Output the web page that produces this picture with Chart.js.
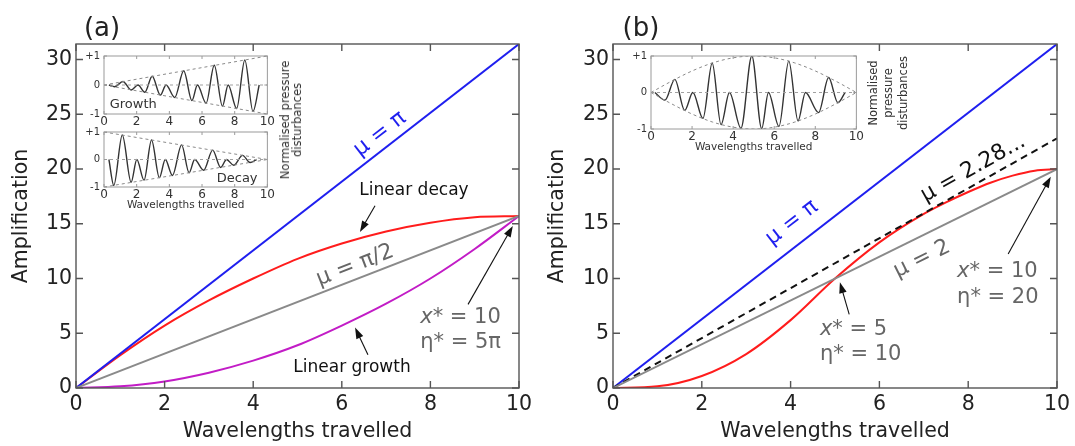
<!DOCTYPE html>
<html>
<head>
<meta charset="utf-8">
<script src="https://cdn.jsdelivr.net/npm/chart.js@4.4.1/dist/chart.umd.min.js"></script>
<style>
body { margin: 0; background: #fff; width: 1075px; height: 446px; overflow: hidden; position: relative; font-family: "DejaVu Sans", sans-serif; }
canvas { position: absolute; }
.lbl { position: absolute; white-space: nowrap; transform: translate(-50%, -50%); color: #222; }
.side { position: absolute; white-space: nowrap; text-align: center; color: #333; transform: translate(-50%, -50%) rotate(-90deg); }
</style>
</head>
<body>
<canvas id="mainA" width="540" height="446" style="left:0;top:0"></canvas>
<canvas id="mainB" width="539" height="446" style="left:536px;top:0"></canvas>
<canvas id="insetGrowth" width="196" height="84" style="left:80px;top:46px"></canvas>
<canvas id="insetDecay" width="196" height="96" style="left:80px;top:122px"></canvas>
<canvas id="insetB" width="240" height="110" style="left:625px;top:46px"></canvas>

<div class="lbl" style="left:102px;top:27px;font-size:26px">(a)</div>
<div class="lbl" style="left:641px;top:27px;font-size:26px">(b)</div>
<div class="side" style="left:291px;top:120px;font-size:11.5px;line-height:12px">Normalised pressure<br>disturbances</div>
<div class="side" style="left:888px;top:93px;font-size:11.5px;line-height:15px">Normalised<br>pressure<br>disturbances</div>

<script>
// ---- panel (a) main curves ----
const aLineX = [0, 10];
const aMuPi = [0, 31.42];
const aMuHalfPi = [0, 15.71];
const aCurveX = [0, 1, 2, 3, 4, 5, 6, 7, 8, 9, 10];
const aLinearDecay = [0, 3.0, 5.7, 8.0, 10.0, 11.8, 13.2, 14.3, 15.1, 15.6, 15.71];
const aLinearGrowth = [0, 0.15, 0.6, 1.4, 2.5, 3.9, 5.7, 7.7, 10.0, 12.7, 15.71];

// ---- panel (b) main curves ----
const bLineX = [0, 10];
const bMuPi = [0, 31.42];
const bMu2 = [0, 20];
const bMu228 = [0, 22.8];
const bCurveX = [0, 1, 2, 3, 4, 5, 6, 7, 7.5, 8, 8.5, 9, 9.5, 10];
const bSineCurve = [0, 0.15, 1.1, 3.1, 6.2, 10.0, 13.3, 15.9, 16.95, 17.9, 18.75, 19.4, 19.85, 20];

// ---- insets: normalised pressure disturbances ----
const growthX = [0.3, 0.65, 1.16, 1.66, 2.08, 2.5, 2.95, 3.45, 3.8, 4.33, 4.88, 5.38, 5.72, 6.25, 6.75, 7.25, 7.6, 8.12, 8.62, 9.12, 9.5];
const growthP = [0, -0.06, 0.12, -0.17, 0, -0.25, 0.3, -0.35, 0, -0.43, 0.49, -0.54, 0, -0.63, 0.68, -0.73, 0, -0.81, 0.86, -0.91, 0];
const growthEnvX = [0, 10];
const growthEnvTop = [0, 1];
const growthEnvBot = [0, -1];

const decayX = [0.3, 0.6, 1.12, 1.66, 2.01, 2.45, 2.91, 3.39, 3.75, 4.19, 4.75, 5.21, 5.55, 6.1, 6.65, 7.14, 7.5, 7.94, 8.48, 8.94, 9.34];
const decayP = [0, -0.94, 0.89, -0.83, 0, -0.75, 0.71, -0.66, 0, -0.58, 0.53, -0.48, 0, -0.39, 0.34, -0.29, 0, -0.21, 0.15, -0.11, 0];
const decayEnvX = [0, 10];
const decayEnvTop = [1, 0];
const decayEnvBot = [-1, 0];

const bInsetX = [0.19, 0.68, 1.16, 1.64, 2.04, 2.53, 2.98, 3.41, 3.82, 4.38, 4.91, 5.39, 5.72, 6.23, 6.71, 7.16, 7.52, 8.16, 8.65, 9.1, 9.45];
const bInsetP = [0, -0.21, 0.36, -0.49, 0, -0.71, 0.81, -0.88, 0, -0.98, 1.0, -0.99, 0, -0.93, 0.86, -0.78, 0, -0.55, 0.41, -0.28, 0];
const bEnvX = [0, 1, 2, 3, 4, 5, 6, 7, 8, 9, 10];
const bEnvTop = [0, 0.31, 0.59, 0.81, 0.95, 1, 0.95, 0.81, 0.59, 0.31, 0];
const bEnvBot = [0, -0.31, -0.59, -0.81, -0.95, -1, -0.95, -0.81, -0.59, -0.31, 0];

const zeroX = [0, 10];
const zeroP = [0, 0];
const insetYLabels = { '-1': '-1', '0': '0', '1': '+1' };

const FONT = "DejaVu Sans";
const BLUE = '#1f1fef';
const RED = '#ff1c1c';
const MAGENTA = '#c21cc6';
const GRAY = '#8a8a8a';
const NOTE_GRAY = '#666666';

function pts(xs, ys) {
    return xs.map((x, i) => ({ x: x, y: ys[i] }));
}

// Frame round the plot area with inward ticks on all four sides
const framePlugin = {
    id: 'frame',
    beforeDraw(chart, args, opts) {
        if (!opts.fill) return;
        const a = chart.chartArea;
        chart.ctx.save();
        chart.ctx.fillStyle = opts.fill;
        chart.ctx.fillRect(a.left, a.top, a.right - a.left, a.bottom - a.top);
        chart.ctx.restore();
    },
    afterDraw(chart, args, opts) {
        const { ctx, chartArea: a, scales } = chart;
        const L = opts.len || 6;
        ctx.save();
        ctx.strokeStyle = opts.color || '#555';
        ctx.lineWidth = opts.width || 1.3;
        ctx.beginPath();
        scales.x.ticks.forEach(t => {
            const p = scales.x.getPixelForValue(t.value);
            ctx.moveTo(p, a.bottom); ctx.lineTo(p, a.bottom - L);
            ctx.moveTo(p, a.top); ctx.lineTo(p, a.top + L);
        });
        scales.y.ticks.forEach(t => {
            const p = scales.y.getPixelForValue(t.value);
            ctx.moveTo(a.left, p); ctx.lineTo(a.left + L, p);
            ctx.moveTo(a.right, p); ctx.lineTo(a.right - L, p);
        });
        ctx.stroke();
        ctx.strokeRect(a.left, a.top, a.right - a.left, a.bottom - a.top);
        ctx.restore();
    }
};

// Text labels and arrows placed in data coordinates
const notesPlugin = {
    id: 'notes',
    afterDatasetsDraw(chart, args, opts) {
        const { ctx, scales: { x, y } } = chart;
        (opts.arrows || []).forEach(ar => {
            const x0 = x.getPixelForValue(ar.from[0]), y0 = y.getPixelForValue(ar.from[1]);
            const x1 = x.getPixelForValue(ar.to[0]), y1 = y.getPixelForValue(ar.to[1]);
            const ang = Math.atan2(y1 - y0, x1 - x0);
            const c = Math.cos(ang), s = Math.sin(ang);
            ctx.save();
            ctx.strokeStyle = '#111';
            ctx.fillStyle = '#111';
            ctx.lineWidth = 1.1;
            ctx.beginPath();
            ctx.moveTo(x0, y0);
            ctx.lineTo(x1 - 9 * c, y1 - 9 * s);
            ctx.stroke();
            ctx.beginPath();
            ctx.moveTo(x1, y1);
            ctx.lineTo(x1 - 11 * c + 3.8 * s, y1 - 11 * s - 3.8 * c);
            ctx.lineTo(x1 - 11 * c - 3.8 * s, y1 - 11 * s + 3.8 * c);
            ctx.closePath();
            ctx.fill();
            ctx.restore();
        });
        (opts.texts || []).forEach(t => {
            const px = x.getPixelForValue(t.x), py = y.getPixelForValue(t.y);
            let rot = 0;
            if (t.slope !== undefined) {
                const dx = x.getPixelForValue(1) - x.getPixelForValue(0);
                const dy = y.getPixelForValue(t.slope) - y.getPixelForValue(0);
                rot = Math.atan2(dy, dx);
            }
            ctx.save();
            ctx.translate(px, py);
            ctx.rotate(rot);
            ctx.fillStyle = t.color;
            ctx.textBaseline = 'middle';
            ctx.textAlign = 'left';
            const parts = t.parts || [[t.text, false]];
            const fontOf = it => (it ? 'italic ' : '') + t.size + 'px "' + FONT + '"';
            let total = 0;
            parts.forEach(p => { ctx.font = fontOf(p[1]); total += ctx.measureText(p[0]).width; });
            let cx = t.align === 'left' ? 0 : -total / 2;
            parts.forEach(p => {
                ctx.font = fontOf(p[1]);
                ctx.fillText(p[0], cx, 0);
                cx += ctx.measureText(p[0]).width;
            });
            ctx.restore();
        });
    }
};

function lineSet(data, color, width, extra) {
    return Object.assign({
        data: data,
        borderColor: color,
        borderWidth: width,
        pointRadius: 0,
        fill: false,
        tension: 0
    }, extra || {});
}

function makeMain(id, datasets, notes, padRight) {
    return new Chart(document.getElementById(id), {
        type: 'line',
        data: { datasets: datasets },
        options: {
            responsive: false,
            animation: false,
            events: [],
            layout: { padding: { top: 44, right: padRight, left: 0, bottom: 0 } },
            plugins: {
                legend: { display: false },
                tooltip: { enabled: false },
                frame: { len: 7, color: '#555', width: 1.4 },
                notes: notes
            },
            scales: {
                x: {
                    type: 'linear', min: 0, max: 10,
                    grid: { display: false, drawTicks: false }, border: { display: false },
                    ticks: { stepSize: 2, padding: 4, color: '#222', font: { family: FONT, size: 20.5 } },
                    title: { display: true, text: 'Wavelengths travelled', color: '#222', padding: { top: 0, bottom: 2 }, font: { family: FONT, size: 20.5 } },
                    afterFit: s => { s.height = 58; }
                },
                y: {
                    type: 'linear', min: 0, max: 31.42,
                    grid: { display: false, drawTicks: false }, border: { display: false },
                    ticks: { stepSize: 5, includeBounds: false, padding: 4, color: '#222', font: { family: FONT, size: 20.5 } },
                    title: { display: true, text: 'Amplification', color: '#222', padding: { top: 9, bottom: 0 }, font: { family: FONT, size: 20.5 } },
                    afterFit: s => { s.width = id === 'mainA' ? 76 : 77; }
                }
            }
        },
        plugins: [framePlugin, notesPlugin]
    });
}

function makeInset(id, datasets, cfg) {
    return new Chart(document.getElementById(id), {
        type: 'line',
        data: { datasets: datasets },
        options: {
            responsive: false,
            animation: false,
            events: [],
            layout: { padding: { top: 9, right: cfg.padRight, left: 0, bottom: 0 } },
            plugins: {
                legend: { display: false },
                tooltip: { enabled: false },
                frame: { len: 3, color: '#9a9a9a', width: 1, fill: '#fff' },
                notes: cfg.notes || {}
            },
            scales: {
                x: {
                    type: 'linear', min: 0, max: 10,
                    grid: { display: false, drawTicks: false }, border: { display: false },
                    ticks: { stepSize: 2, padding: 1, color: '#333', font: { family: FONT, size: 12 } },
                    title: { display: !!cfg.xTitle, text: 'Wavelengths travelled', color: '#333', padding: { top: 0, bottom: cfg.titlePad || 2 }, font: { family: FONT, size: 10.5 } },
                    afterFit: s => { s.height = cfg.xHeight; }
                },
                y: {
                    type: 'linear', min: -1, max: 1,
                    grid: { display: false, drawTicks: false }, border: { display: false },
                    ticks: { stepSize: 1, padding: 4, color: '#333', font: { family: FONT, size: 10 },
                             callback: v => insetYLabels[String(v)] },
                    afterFit: s => { s.width = cfg.yWidth; }
                }
            }
        },
        plugins: [framePlugin, notesPlugin]
    });
}

const mono = { cubicInterpolationMode: 'monotone' };
const dashed = { borderDash: [3, 3] };

// ---- panel (a) ----
makeMain('mainA', [
    lineSet(pts(aLineX, aMuHalfPi), GRAY, 2),
    lineSet(pts(aCurveX, aLinearGrowth), MAGENTA, 2, mono),
    lineSet(pts(aLineX, aMuPi), BLUE, 2),
    lineSet(pts(aCurveX, aLinearDecay), RED, 2, mono)
], {
    texts: [
        { x: 6.86, y: 23.2, text: 'μ = π', color: BLUE, size: 22, slope: 3.1416 },
        { x: 7.63, y: 18.0, text: 'Linear decay', color: '#111', size: 17 },
        { x: 6.3, y: 11.2, text: 'μ = π/2', color: NOTE_GRAY, size: 22, slope: 1.5708 },
        { x: 6.23, y: 1.84, text: 'Linear growth', color: '#111', size: 17 },
        { x: 7.77, y: 6.44, parts: [['x', true], ['* = 10', false]], color: NOTE_GRAY, size: 21, align: 'left' },
        { x: 7.77, y: 4.14, parts: [['η* = 5π', false]], color: NOTE_GRAY, size: 21, align: 'left' }
    ],
    arrows: [
        { from: [6.75, 16.65], to: [6.41, 14.26] },
        { from: [6.59, 3.04], to: [6.30, 5.52] },
        { from: [8.85, 7.64], to: [9.86, 14.8] }
    ]
}, 21);

// ---- panel (b) ----
makeMain('mainB', [
    lineSet(pts(bLineX, bMu2), GRAY, 2),
    lineSet(pts(bLineX, bMu228), '#111', 2, { borderDash: [7, 5] }),
    lineSet(pts(bLineX, bMuPi), BLUE, 2),
    lineSet(pts(bCurveX, bSineCurve), RED, 2, mono)
], {
    texts: [
        { x: 4.03, y: 15.1, text: 'μ = π', color: BLUE, size: 22, slope: 3.1416 },
        { x: 8.11, y: 20.05, text: 'μ = 2.28...', color: '#111', size: 22, slope: 2.28 },
        { x: 6.96, y: 11.78, text: 'μ = 2', color: NOTE_GRAY, size: 22, slope: 2 },
        { x: 4.66, y: 5.34, parts: [['x', true], ['* = 5', false]], color: NOTE_GRAY, size: 21, align: 'left' },
        { x: 4.66, y: 3.04, parts: [['η* = 10', false]], color: NOTE_GRAY, size: 21, align: 'left' },
        { x: 7.75, y: 10.67, parts: [['x', true], ['* = 10', false]], color: NOTE_GRAY, size: 21, align: 'left' },
        { x: 7.75, y: 8.28, parts: [['η* = 20', false]], color: NOTE_GRAY, size: 21, align: 'left' }
    ],
    arrows: [
        { from: [5.32, 6.72], to: [5.11, 9.66] },
        { from: [8.9, 12.24], to: [9.86, 19.3] }
    ]
}, 18);

// ---- insets ----
makeInset('insetGrowth', [
    lineSet(pts(zeroX, zeroP), '#a0a0a0', 1, dashed),
    lineSet(pts(growthEnvX, growthEnvTop), '#8a8a8a', 1, dashed),
    lineSet(pts(growthEnvX, growthEnvBot), '#8a8a8a', 1, dashed),
    lineSet(pts(growthX, growthP), '#333', 1.4, mono)
], {
    padRight: 5, xHeight: 16, yWidth: 24,
    notes: { texts: [{ x: 0.35, y: -0.66, text: 'Growth', color: '#333', size: 13, align: 'left' }] }
});

makeInset('insetDecay', [
    lineSet(pts(zeroX, zeroP), '#a0a0a0', 1, dashed),
    lineSet(pts(decayEnvX, decayEnvTop), '#8a8a8a', 1, dashed),
    lineSet(pts(decayEnvX, decayEnvBot), '#8a8a8a', 1, dashed),
    lineSet(pts(decayX, decayP), '#333', 1.4, mono)
], {
    padRight: 5, xHeight: 31, yWidth: 24, xTitle: true, titlePad: 6,
    notes: { texts: [{ x: 6.9, y: -0.7, text: 'Decay', color: '#333', size: 13, align: 'left' }] }
});

makeInset('insetB', [
    lineSet(pts(zeroX, zeroP), '#a0a0a0', 1, dashed),
    lineSet(pts(bEnvX, bEnvTop), '#8a8a8a', 1, Object.assign({}, dashed, mono)),
    lineSet(pts(bEnvX, bEnvBot), '#8a8a8a', 1, Object.assign({}, dashed, mono)),
    lineSet(pts(bInsetX, bInsetP), '#333', 1.4, mono)
], {
    padRight: 7, xHeight: 27, yWidth: 26, xTitle: true, titlePad: 2
});
</script>
</body>
</html>
